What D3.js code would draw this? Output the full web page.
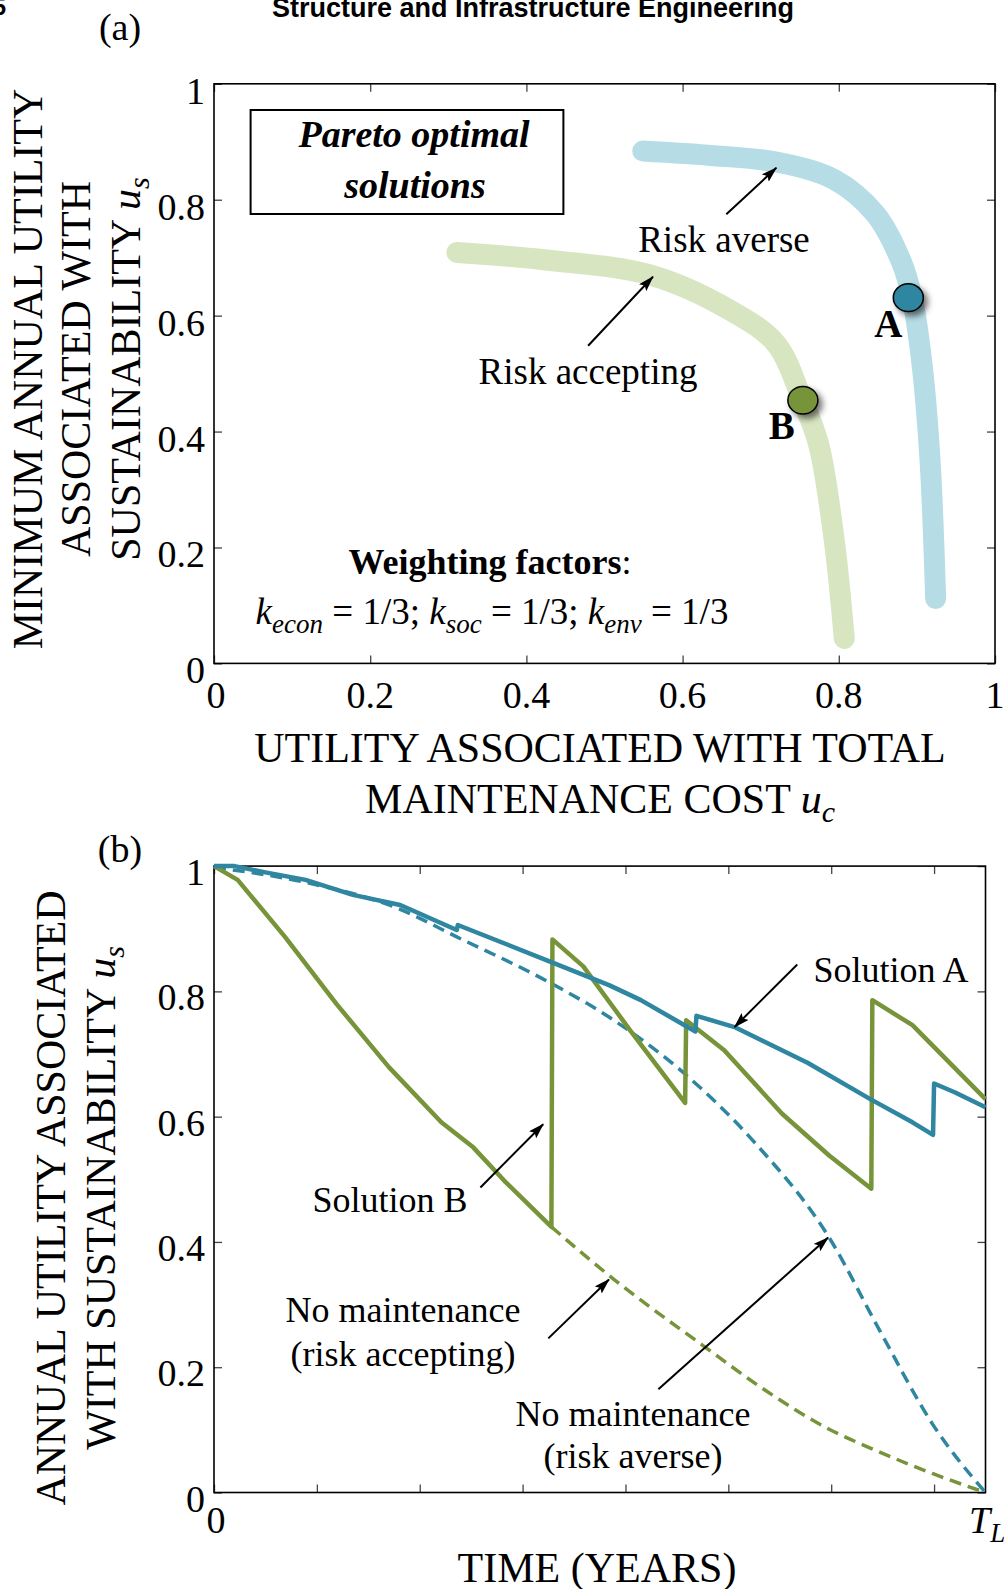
<!DOCTYPE html>
<html>
<head>
<meta charset="utf-8">
<script src="https://cdn.jsdelivr.net/npm/d3@7"></script>
<style>
  body { margin: 0; background: #fff; }
  svg { display: block; }
  text { font-family: "Liberation Serif", "Times New Roman", serif; fill: #000; }
</style>
</head>
<body>
<div id="chart"></div>
<script>
// ---- data, panel (a): Pareto fronts (u_c, u_s)
var riskAverseU = [0.549, 0.640, 0.720, 0.794, 0.847, 0.881, 0.894, 0.907, 0.917, 0.924]
var riskAverseV = [0.884, 0.876, 0.865, 0.835, 0.775, 0.690, 0.630, 0.511, 0.346, 0.112]
var riskAcceptU = [0.311, 0.425, 0.559, 0.660, 0.720, 0.753, 0.774, 0.794, 0.807]
var riskAcceptV = [0.709, 0.696, 0.670, 0.610, 0.551, 0.455, 0.379, 0.214, 0.043]
var pointNames = ["A", "B"]
var pointU = [0.889, 0.754]
var pointV = [0.631, 0.454]
var ticksA = [0, 0.2, 0.4, 0.6, 0.8, 1]
var tickLabelsA = ["0", "0.2", "0.4", "0.6", "0.8", "1"]

// ---- data, panel (b): annual utility over time (years, T_L = 75)
var solAT = [0, 2, 5, 8.9, 13.5, 18.1, 23.6, 23.7, 32.3, 38.4, 41.5, 46.8, 46.9, 50.6, 57.7, 63.8, 67.9, 69.9, 70.0, 72.0, 75]
var solAV = [1.0, 1.0, 0.99, 0.978, 0.954, 0.938, 0.898, 0.906, 0.850, 0.810, 0.786, 0.736, 0.761, 0.743, 0.686, 0.628, 0.591, 0.571, 0.653, 0.639, 0.615]
var solBT = [0, 2.3, 6.9, 11.9, 17.0, 22.1, 25.2, 28.2, 32.8, 32.9, 35.9, 40.4, 45.8, 45.9, 49.6, 55.2, 59.8, 63.9, 64.0, 67.9, 75]
var solBV = [1.0, 0.978, 0.887, 0.780, 0.679, 0.591, 0.551, 0.498, 0.424, 0.883, 0.840, 0.739, 0.622, 0.754, 0.706, 0.605, 0.538, 0.485, 0.786, 0.746, 0.628]
var noMaintAverseT = [0, 8.9, 18.1, 23.6, 32.3, 38.4, 46.0, 52.6, 59.8, 64.8, 69.9, 75]
var noMaintAverseV = [0.998, 0.974, 0.931, 0.887, 0.817, 0.759, 0.665, 0.558, 0.407, 0.256, 0.108, 0]
var noMaintAcceptT = [32.8, 38.9, 47.5, 53.7, 59.8, 63.8, 69.9, 75]
var noMaintAcceptV = [0.424, 0.340, 0.235, 0.162, 0.101, 0.071, 0.030, 0]
var timeTicks = [0, 10, 20, 30, 40, 50, 60, 70]
var ticksB = [0, 0.2, 0.4, 0.6, 0.8, 1]
var tickLabelsB = ["0", "0.2", "0.4", "0.6", "0.8", "1"]

var lightBlue = "#b6dce6", lightGreen = "#d7e5c1"
var teal = "#2f86a0", olive = "#77943a"

var svg = d3.select("#chart").append("svg")
    .attr("width", 1004)
    .attr("height", 1589)

var defs = svg.append("defs")
defs.append("marker")
    .attr("id", "arr")
    .attr("markerUnits", "userSpaceOnUse")
    .attr("markerWidth", 16).attr("markerHeight", 10)
    .attr("refX", 15).attr("refY", 5)
    .attr("orient", "auto")
  .append("path")
    .attr("d", "M0,0 L16,5 L0,10 L3,5 Z")
    .attr("fill", "#000")
var f = defs.append("filter").attr("id", "shadow")
    .attr("x", "-50%").attr("y", "-50%").attr("width", "200%").attr("height", "200%")
f.append("feDropShadow").attr("dx", 4).attr("dy", 4).attr("stdDeviation", 3)
    .attr("flood-color", "#000").attr("flood-opacity", 0.55)

// page header bits (cut by the page edge, as in the scan)
svg.append("text").attr("x", 533).attr("y", 17).attr("text-anchor", "middle")
    .style("font-family", "'Liberation Sans', Arial, sans-serif").style("font-weight", "bold")
    .style("font-size", "27px").text("Structure and Infrastructure Engineering")
svg.append("text").attr("x", 6).attr("y", 15).attr("text-anchor", "end")
    .style("font-family", "'Liberation Sans', Arial, sans-serif").style("font-weight", "bold")
    .style("font-size", "24px").text("5")

// ================= panel (a)
var xA = d3.scaleLinear().domain([0, 1]).range([214, 995])
var yA = d3.scaleLinear().domain([0, 1]).range([663.4, 83.8])

function frame(x, y, xt, yt) {
    var g = svg.append("g")
    var x0 = x.range()[0], x1 = x.range()[1], y0 = y.range()[0], y1 = y.range()[1]
    g.append("g").attr("transform", "translate(0," + y0 + ")")
        .call(d3.axisBottom(x).tickValues(xt).tickSize(-8).tickFormat(""))
    g.append("g").attr("transform", "translate(0," + y1 + ")")
        .call(d3.axisTop(x).tickValues(xt).tickSize(-8).tickFormat(""))
    g.append("g").attr("transform", "translate(" + x0 + ",0)")
        .call(d3.axisLeft(y).tickValues(yt).tickSize(-8).tickFormat(""))
    g.append("g").attr("transform", "translate(" + x1 + ",0)")
        .call(d3.axisRight(y).tickValues(yt).tickSize(-8).tickFormat(""))
    g.selectAll(".domain").remove()
    g.selectAll(".tick line").attr("stroke", "#444").attr("stroke-width", 1.3)
    g.append("rect").attr("x", x0).attr("y", y1).attr("width", x1 - x0).attr("height", y0 - y1)
        .attr("fill", "none").attr("stroke", "#000").attr("stroke-width", 1.6)
}

var bandLine = d3.line().curve(d3.curveCatmullRom.alpha(0.5))
svg.append("path")
    .attr("d", bandLine(riskAverseU.map(function(u, i) { return [xA(u), yA(riskAverseV[i])] })))
    .attr("fill", "none").attr("stroke", lightBlue).attr("stroke-width", 21)
    .attr("stroke-linecap", "round").attr("stroke-linejoin", "round")
svg.append("path")
    .attr("d", bandLine(riskAcceptU.map(function(u, i) { return [xA(u), yA(riskAcceptV[i])] })))
    .attr("fill", "none").attr("stroke", lightGreen).attr("stroke-width", 21)
    .attr("stroke-linecap", "round").attr("stroke-linejoin", "round")

frame(xA, yA, ticksA, ticksA)

svg.selectAll(".pt").data(pointNames).enter().append("ellipse")
    .attr("cx", function(d, i) { return xA(pointU[i]) })
    .attr("cy", function(d, i) { return yA(pointV[i]) })
    .attr("rx", 15).attr("ry", 13.8)
    .attr("fill", function(d, i) { return i == 0 ? teal : olive })
    .attr("stroke", "#000").attr("stroke-width", 1.5)
    .attr("filter", "url(#shadow)")
svg.selectAll(".ptlab").data(pointNames).enter().append("text")
    .attr("x", function(d, i) { return xA(pointU[i]) - (i == 0 ? 20 : 21) })
    .attr("y", function(d, i) { return yA(pointV[i]) + 39 })
    .attr("text-anchor", "middle")
    .style("font-weight", "bold").style("font-size", "39px")
    .text(function(d) { return d })

// tick labels (a)
svg.selectAll(".xla").data(ticksA).enter().append("text")
    .attr("x", function(d) { return xA(d) + (d == 0 ? 2 : 0) }).attr("y", 708)
    .attr("text-anchor", "middle").style("font-size", "38px")
    .text(function(d, i) { return tickLabelsA[i] })
svg.selectAll(".yla").data(ticksA).enter().append("text")
    .attr("x", 205).attr("y", function(d) { return yA(d) + 20 })
    .attr("text-anchor", "end").style("font-size", "38px")
    .text(function(d, i) { return tickLabelsA[i] })

// annotations (a)
svg.append("rect").attr("x", 250.6).attr("y", 110).attr("width", 312.8).attr("height", 104)
    .attr("fill", "none").attr("stroke", "#000").attr("stroke-width", 2)
svg.append("text").attr("x", 414).attr("y", 147).attr("text-anchor", "middle")
    .style("font-weight", "bold").style("font-style", "italic").style("font-size", "38px")
    .text("Pareto optimal")
svg.append("text").attr("x", 415).attr("y", 198).attr("text-anchor", "middle")
    .style("font-weight", "bold").style("font-style", "italic").style("font-size", "38px")
    .text("solutions")

function arrow(x, y, a) {
    svg.append("line")
        .attr("x1", x(a[0])).attr("y1", y(a[1])).attr("x2", x(a[2])).attr("y2", y(a[3]))
        .attr("stroke", "#000").attr("stroke-width", 2).attr("marker-end", "url(#arr)")
}
arrow(xA, yA, [0.656, 0.775, 0.720, 0.855])
arrow(xA, yA, [0.479, 0.548, 0.562, 0.667])
svg.append("text").attr("x", 724).attr("y", 252).attr("text-anchor", "middle")
    .style("font-size", "37px").text("Risk averse")
svg.append("text").attr("x", 588).attr("y", 384).attr("text-anchor", "middle")
    .style("font-size", "37px").text("Risk accepting")

var wf = svg.append("text").attr("x", 490).attr("y", 574).attr("text-anchor", "middle")
    .style("font-size", "36px")
wf.append("tspan").style("font-weight", "bold").text("Weighting factors")
wf.append("tspan").text(":")
var kt = svg.append("text").attr("x", 492).attr("y", 624).attr("text-anchor", "middle")
    .style("font-size", "37px")
var parts = [["k", "econ", " = 1/3; "], ["k", "soc", " = 1/3; "], ["k", "env", " = 1/3"]]
parts.forEach(function(p) {
    kt.append("tspan").style("font-style", "italic").text(p[0])
    kt.append("tspan").style("font-style", "italic").style("font-size", "27px").attr("dy", 9).text(p[1])
    kt.append("tspan").attr("dy", -9).text(p[2])
})

// axis titles (a)
svg.append("text").attr("x", 120).attr("y", 40).attr("text-anchor", "middle")
    .style("font-size", "38px").text("(a)")
svg.append("text").attr("x", 600).attr("y", 762).attr("text-anchor", "middle")
    .style("font-size", "42px").text("UTILITY ASSOCIATED WITH TOTAL")
var xt2 = svg.append("text").attr("x", 600).attr("y", 813).attr("text-anchor", "middle")
    .style("font-size", "42px")
xt2.append("tspan").text("MAINTENANCE COST ")
xt2.append("tspan").style("font-style", "italic").text("u")
xt2.append("tspan").style("font-size", "30px").style("font-style", "italic").attr("dy", 9).text("c")

var ylA = ["MINIMUM ANNUAL UTILITY", "ASSOCIATED WITH", "SUSTAINABILITY "]
var ylAx = [42, 90, 140]
ylA.forEach(function(s, i) {
    var t = svg.append("text").attr("transform", "translate(" + ylAx[i] + ",369) rotate(-90)")
        .attr("text-anchor", "middle").style("font-size", "42px")
    t.append("tspan").text(s)
    if (i == 2) {
        t.append("tspan").style("font-style", "italic").text("u")
        t.append("tspan").style("font-style", "italic").style("font-size", "30px").attr("dy", 9).text("s")
    }
})

// ================= panel (b)
var xB = d3.scaleLinear().domain([0, 75]).range([214, 985.5])
var yB = d3.scaleLinear().domain([0, 1]).range([1492.5, 866.1])
// dashed deterioration curves are smooth, the maintained ones are piecewise
var smoothB = d3.line().curve(d3.curveMonotoneX)
    .x(function(d) { return xB(d[0]) }).y(function(d) { return yB(d[1]) })
var lineB = d3.line()
    .x(function(d) { return xB(d[0]) }).y(function(d) { return yB(d[1]) })

function zip(a, b) { return a.map(function(v, i) { return [v, b[i]] }) }

frame(xB, yB, timeTicks, ticksB)

svg.append("path").attr("d", smoothB(zip(noMaintAverseT, noMaintAverseV)))
    .attr("fill", "none").attr("stroke", teal).attr("stroke-width", 3.5).attr("stroke-dasharray", "12,7")
svg.append("path").attr("d", smoothB(zip(noMaintAcceptT, noMaintAcceptV)))
    .attr("fill", "none").attr("stroke", olive).attr("stroke-width", 3.5).attr("stroke-dasharray", "12,7")
svg.append("path").attr("d", lineB(zip(solBT, solBV)))
    .attr("fill", "none").attr("stroke", olive).attr("stroke-width", 4.5).attr("stroke-linejoin", "round")
svg.append("path").attr("d", lineB(zip(solAT, solAV)))
    .attr("fill", "none").attr("stroke", teal).attr("stroke-width", 4.5).attr("stroke-linejoin", "round")

svg.selectAll(".ylb").data(ticksB).enter().append("text")
    .attr("x", 205).attr("y", function(d) { return yB(d) + 19 })
    .attr("text-anchor", "end").style("font-size", "38px")
    .text(function(d, i) { return tickLabelsB[i] })
svg.append("text").attr("x", xB(0) + 2).attr("y", 1533).attr("text-anchor", "middle")
    .style("font-size", "38px").text("0")
var tl = svg.append("text").attr("x", 969).attr("y", 1533).style("font-size", "38px")
tl.append("tspan").style("font-style", "italic").text("T")
tl.append("tspan").style("font-style", "italic").style("font-size", "27px").attr("dy", 9).text("L")

// annotations (b)
arrow(xB, yB, [56.7, 0.843, 50.6, 0.743])
arrow(xB, yB, [25.9, 0.487, 32.0, 0.588])
arrow(xB, yB, [32.5, 0.246, 38.4, 0.340])
arrow(xB, yB, [43.2, 0.165, 59.7, 0.407])
var notes = [["Solution A", 891, 982], ["Solution B", 390, 1212], ["No maintenance", 403, 1322],
    ["(risk accepting)", 403, 1366], ["No maintenance", 633, 1426], ["(risk averse)", 633, 1468]]
notes.forEach(function(n) {
    svg.append("text").attr("x", n[1]).attr("y", n[2]).attr("text-anchor", "middle")
        .style("font-size", "36px").text(n[0])
})

svg.append("text").attr("x", 120).attr("y", 862).attr("text-anchor", "middle")
    .style("font-size", "38px").text("(b)")
svg.append("text").attr("x", 597).attr("y", 1582).attr("text-anchor", "middle")
    .style("font-size", "42px").text("TIME (YEARS)")
var ylB = ["ANNUAL UTILITY ASSOCIATED", "WITH SUSTAINABILITY "]
var ylBx = [65, 115]
ylB.forEach(function(s, i) {
    var t = svg.append("text").attr("transform", "translate(" + ylBx[i] + ",1198) rotate(-90)")
        .attr("text-anchor", "middle").style("font-size", "42px")
    t.append("tspan").text(s)
    if (i == 1) {
        t.append("tspan").style("font-style", "italic").text("u")
        t.append("tspan").style("font-style", "italic").style("font-size", "30px").attr("dy", 9).text("s")
    }
})
</script>
</body>
</html>
